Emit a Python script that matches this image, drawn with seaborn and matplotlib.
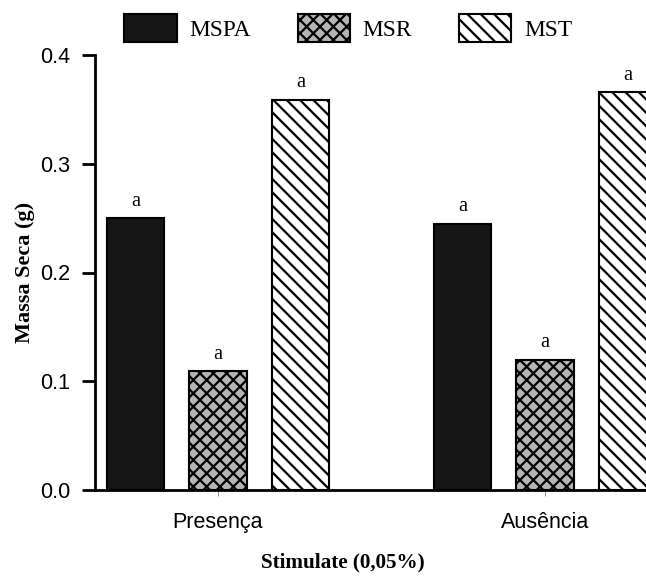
import matplotlib
matplotlib.use('Agg')
import matplotlib.pyplot as plt
import seaborn as sns
import pandas as pd

# ---- dados ----
grupos = ['Presença', 'Ausência']
series = ['MSPA', 'MSR', 'MST']
mspa = [0.250, 0.245]
msr = [0.109, 0.120]
mst = [0.359, 0.366]
letras = [['a', 'a'], ['a', 'a'], ['a', 'a']]

cores = ['#161616', '#b5b5b5', '#ffffff']
hachuras = ['', 'xx', '\\\\']

sns.set_style('ticks', rc={'axes.edgecolor': 'black', 'text.color': 'black',
                           'axes.labelcolor': 'black', 'xtick.color': 'black',
                           'ytick.color': 'black'})
plt.rcParams['hatch.linewidth'] = 2.0

df = pd.DataFrame({
    'Stimulate': grupos * 3,
    'serie': [s for s in series for _ in grupos],
    'massa': mspa + msr + mst,
})

# dpi 80 -> densidade das hachuras parecida com a original
DPI = 80
fig = plt.figure(figsize=(646 / DPI, 576 / DPI), dpi=DPI)
ax = fig.add_axes([95 / 646, 86 / 576, 551 / 646, 435 / 576])

sns.barplot(data=df, x='Stimulate', y='massa', hue='serie', order=grupos,
            hue_order=series, palette=cores, saturation=1, width=0.756, gap=0.3,
            edgecolor='black', linewidth=1.9, errorbar=None, legend=False, ax=ax)

for cont, hatch, lets in zip(ax.containers, hachuras, letras):
    for bar, letra in zip(cont.patches, lets):
        bar.set_hatch(hatch)
        bar.set_edgecolor('black')
        ax.annotate(letra, (bar.get_x() + bar.get_width() / 2, bar.get_height()),
                    xytext=(0, 11), textcoords='offset points', ha='center', va='baseline',
                    fontsize=18.5, family='Liberation Serif')

ax.set_ylim(0, 0.4)
ax.set_xlim(-0.376, 1.309)
ax.set_yticks([0.0, 0.1, 0.2, 0.3, 0.4])
ax.set_yticklabels(['0.0', '0.1', '0.2', '0.3', '0.4'])
ax.tick_params(axis='y', length=11.5, width=2.5, labelsize=19.4, pad=11)
ax.tick_params(axis='x', length=5, width=0.75, color='#777777', labelsize=19.4, pad=15)
for lab in ax.get_xticklabels() + ax.get_yticklabels():
    lab.set_family('Liberation Sans')

sns.despine(ax=ax)
ax.spines['left'].set_linewidth(2.5)
ax.spines['bottom'].set_linewidth(2.5)

ax.set_ylabel('Massa Seca (g)', family='Liberation Serif', fontweight='bold', fontsize=20)
ax.set_xlabel('Stimulate (0,05%)', family='Liberation Serif', fontweight='bold', fontsize=19)
ax.yaxis.set_label_coords(-0.109, 0.5)
ax.xaxis.set_label_coords(0.45, -0.143)

handles = [c.patches[0] for c in ax.containers]
fig.legend(handles, series, loc='center', bbox_to_anchor=(0.539, 0.951), ncol=3,
           frameon=False, borderpad=0, handlelength=2.25, handleheight=1.45,
           handletextpad=0.54, columnspacing=2.0,
           prop={'family': 'Liberation Serif', 'size': 21})

fig.savefig('out.png', dpi=DPI)
